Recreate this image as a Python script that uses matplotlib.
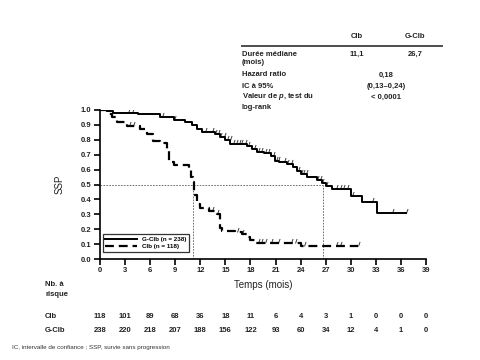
import matplotlib

matplotlib.use("Agg")
import matplotlib.pyplot as plt
import numpy as np
from matplotlib.path import Path

plt.rcParams["font.family"] = ["Liberation Sans", "DejaVu Sans"]
plt.rcParams["font.weight"] = "bold"
plt.rcParams["mathtext.fontset"] = "custom"
plt.rcParams["mathtext.rm"] = "Liberation Sans"
plt.rcParams["mathtext.it"] = "Liberation Sans:italic"
plt.rcParams["mathtext.bf"] = "Liberation Sans:bold"
plt.rcParams["mathtext.bfit"] = "Liberation Sans:italic:bold"

# --- Donnees ---
gclb_t = [0, 1.0, 1.6, 4.6, 7.2, 8.8, 10.2, 11.0, 11.6, 12.2, 13.8, 14.4, 15.0, 15.6,
          17.6, 18.2, 18.8, 19.6, 20.4, 20.9, 21.4, 22.4, 23.1, 23.6, 24.0, 24.8,
          26.0, 26.6, 27.0, 27.7, 30.0, 31.3, 33.1]
gclb_s = [1.0, 0.99, 0.98, 0.97, 0.95, 0.93, 0.92, 0.90, 0.87, 0.85, 0.84, 0.82, 0.80, 0.77,
          0.76, 0.74, 0.72, 0.71, 0.69, 0.66, 0.65, 0.64, 0.62, 0.59, 0.57, 0.55,
          0.53, 0.51, 0.49, 0.47, 0.42, 0.385, 0.31]
gclb_end = 36.6
gclb_cens = [0.4, 3.4, 3.8, 7.4, 8.8, 12.6, 13.4, 13.8, 14.1, 14.4, 14.8, 15.2, 15.5,
             15.9, 16.3, 16.6, 16.9, 17.3, 17.7, 18.4, 18.9, 19.3, 19.7, 20.1, 20.7,
             21.0, 21.3, 22.0, 22.4, 22.8, 23.7, 24.0, 24.3, 24.6, 26.0, 26.3, 26.6,
             27.0, 28.2, 28.7, 29.1, 29.5, 30.2, 32.5, 34.9, 36.6]

clb_t = [0, 0.8, 1.4, 2.0, 3.2, 4.8, 5.6, 6.4, 7.2, 8.0, 8.2, 8.8, 10.6, 10.9, 11.1,
         11.3, 11.6, 12.0, 13.0, 14.0, 14.4, 14.6, 16.2, 17.0, 17.6, 18.0, 18.6, 24.0]
clb_s = [1.0, 0.97, 0.95, 0.92, 0.89, 0.87, 0.84, 0.79, 0.78, 0.73, 0.65, 0.63, 0.60, 0.55,
         0.52, 0.43, 0.37, 0.34, 0.32, 0.30, 0.21, 0.19, 0.18, 0.17, 0.15, 0.13, 0.11, 0.09]
clb_end = 30.9
clb_cens = [3.5, 3.9, 13.4, 14.0, 16.4, 17.0, 18.9, 19.3, 19.7, 20.4, 21.3, 22.8, 23.3,
            24.4, 28.2, 28.7, 30.9]

median_clb = 11.1
median_gclb = 26.7

months = np.arange(0, 40, 3)
risk_clb = [118, 101, 89, 68, 36, 18, 11, 6, 4, 3, 1, 0, 0, 0]
risk_gclb = [238, 220, 218, 207, 188, 156, 122, 93, 60, 34, 12, 4, 1, 0]

W, H = 480, 360


def fx(x):
    return x / W


def fy(y):
    return 1 - y / H


def at(t, s, c):
    t = np.asarray(t)
    idx = np.searchsorted(t, c, side="right") - 1
    return np.asarray(s)[idx]


fig = plt.figure(figsize=(4.8, 3.6), dpi=100)
ax = fig.add_axes([fx(100), fy(259), (426 - 100) / W, (259 - 110) / H])

# courbes
ax.step(gclb_t + [gclb_end], gclb_s + [gclb_s[-1]], where="post",
        color="black", lw=1.4, label="G-Clb (n = 238)", zorder=3)
ax.step(clb_t + [clb_end], clb_s + [clb_s[-1]], where="post",
        color="black", lw=1.6, ls=(0, (4, 2.2)), label="Clb (n = 118)", zorder=3)

cmark = Path([(0, 0), (0.35, 1)], [Path.MOVETO, Path.LINETO])
ax.plot(gclb_cens, at(gclb_t, gclb_s, gclb_cens), ls="none", marker=cmark,
        ms=6.5, mew=0.7, mec="0.25", zorder=2)
ax.plot(clb_cens, at(clb_t, clb_s, clb_cens), ls="none", marker=cmark,
        ms=6.5, mew=0.7, mec="0.25", zorder=2)

# medianes
ax.plot([0, median_gclb], [0.5, 0.5], color="0.35", lw=0.6, ls=(0, (2, 1.5)))
ax.plot([median_clb, median_clb], [0, 0.5], color="0.35", lw=0.6, ls=(0, (2, 1.5)))
ax.plot([median_gclb, median_gclb], [0, 0.5], color="0.35", lw=0.6, ls=(0, (2, 1.5)))

ax.set_xlim(0, 39)
ax.set_ylim(0, 1.0)
ax.set_xticks(months)
ax.set_yticks(np.round(np.arange(0, 1.01, 0.1), 1))
ax.set_yticklabels([f"{v:.1f}" for v in np.arange(0, 1.01, 0.1)])
for sp in ["top", "right"]:
    ax.spines[sp].set_visible(False)
for sp in ["left", "bottom"]:
    ax.spines[sp].set_linewidth(1.2)
ax.tick_params(direction="out", length=4, width=1.2, labelsize=5.5, pad=2,
               colors="black", labelcolor="#222222")
ax.set_xlabel("Temps (mois)", fontsize=7, labelpad=4, color="#222222")
ax.set_ylabel("SSP", fontsize=7, labelpad=12, color="#222222")

leg = ax.legend(loc="lower left", bbox_to_anchor=(0.005, 0.04), fontsize=4.5,
                frameon=True, fancybox=False, edgecolor="black", handlelength=5,
                borderpad=0.4, labelspacing=0.3, handletextpad=0.8,
                borderaxespad=0.2)
leg.get_frame().set_linewidth(0.9)

# tableau du haut
tc = "#222222"
fs = 5.5
fig.text(fx(357), fy(37), "Clb", ha="center", va="center", fontsize=fs, color=tc)
fig.text(fx(415), fy(37), "G-Clb", ha="center", va="center", fontsize=fs, color=tc)
fig.add_artist(plt.Line2D([fx(242), fx(442)], [fy(46), fy(46)], color="0.3", lw=1.4))
fig.text(fx(242), fy(54), "Durée médiane", ha="left", va="center", fontsize=fs, color=tc)
fig.text(fx(242), fy(63), "(mois)", ha="left", va="center", fontsize=fs, color=tc)
fig.text(fx(357), fy(54), "11,1", ha="center", va="center", fontsize=fs, color=tc)
fig.text(fx(415), fy(54), "26,7", ha="center", va="center", fontsize=fs, color=tc)
fig.text(fx(242), fy(75), "Hazard ratio", ha="left", va="center", fontsize=fs, color=tc)
fig.text(fx(242), fy(86), "IC à 95%", ha="left", va="center", fontsize=fs, color=tc)
fig.text(fx(242), fy(97), "Valeur de $\\boldsymbol{p}$, test du", ha="left", va="center",
         fontsize=fs, color=tc)
fig.text(fx(242), fy(107), "log-rank", ha="left", va="center", fontsize=fs, color=tc)
fig.text(fx(386), fy(75), "0,18", ha="center", va="center", fontsize=fs, color=tc)
fig.text(fx(386), fy(86), "(0,13–0,24)", ha="center", va="center", fontsize=fs, color=tc)
fig.text(fx(386), fy(97), "< 0,0001", ha="center", va="center", fontsize=fs, color=tc)

# nombre a risque
fig.text(fx(45), fy(285), "Nb. à", ha="left", va="center", fontsize=fs, color=tc)
fig.text(fx(45), fy(295), "risque", ha="left", va="center", fontsize=fs, color=tc)
fig.text(fx(45), fy(317), "Clb", ha="left", va="center", fontsize=fs, color=tc)
fig.text(fx(45), fy(331), "G-Clb", ha="left", va="center", fontsize=fs, color=tc)
for m, a, b in zip(months, risk_clb, risk_gclb):
    xf = ax.transData.transform((m, 0))[0] / (fig.dpi * 4.8)
    fig.text(xf, fy(317), str(a), ha="center", va="center", fontsize=fs, color=tc)
    fig.text(xf, fy(331), str(b), ha="center", va="center", fontsize=fs, color=tc)

fig.text(fx(12), fy(348), "IC, intervalle de confiance ; SSP, survie sans progression",
         ha="left", va="center", fontsize=4.5, fontweight="normal", color="#333333")

fig.savefig("out.png", dpi=100)
